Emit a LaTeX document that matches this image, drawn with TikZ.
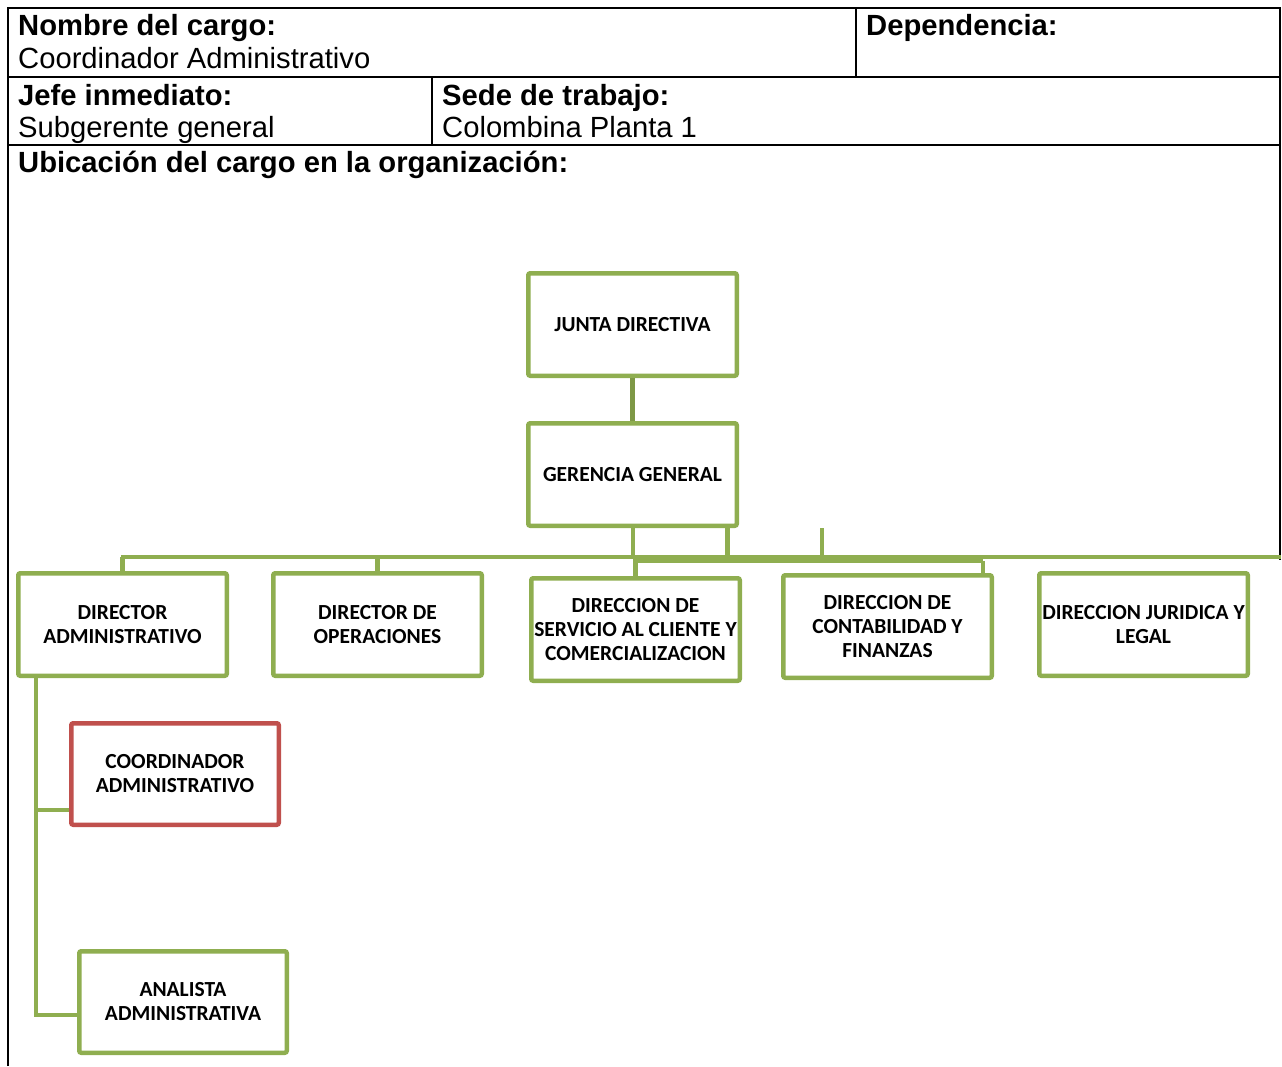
\documentclass[tikz,border=0pt]{standalone}
\usepackage{fontspec}
\setmainfont{Liberation Sans}
\newfontfamily\boxfont{Carlito}
\definecolor{ogreen}{RGB}{143,174,80}
\definecolor{dgreen}{RGB}{126,152,70}
\definecolor{ored}{RGB}{192,80,77}
\begin{document}
\begin{tikzpicture}[x=1pt,y=-1pt,
  orgbox/.style={draw=ogreen,line width=4.5pt,rounded corners=2pt,fill=white,
    minimum width=208.5pt,minimum height=102.5pt,inner sep=0pt,align=center,
    font=\boxfont\bfseries\fontsize{21.5}{24}\selectfont},
  redbox/.style={orgbox,draw=ored},
  conn/.style={draw=ogreen,line width=4.5pt},
  hdr/.style={anchor=base west,inner sep=0pt,font=\bfseries\fontsize{29.2}{31}\selectfont},
  val/.style={anchor=base west,inner sep=0pt,font=\fontsize{29.2}{31}\selectfont},
  rule/.style={line width=2.2pt,black}]
\useasboundingbox (0,0) rectangle (1282,1066);
% table frame
\draw[rule] (8,1066) -- (8,8) -- (1280,8) -- (1280,560);
\draw[rule] (8,77) -- (1280,77);
\draw[rule] (8,145) -- (1280,145);
\draw[rule] (856,8) -- (856,77);
\draw[rule] (432,77) -- (432,145);
% table texts
\node[hdr] (t1) at (18,35) {Nombre del cargo:};
\node[val] (v1) at (18,68) {Coordinador Administrativo};
\node[hdr] (t2) at (866,35) {Dependencia:};
\node[hdr] (t3) at (18,105) {Jefe inmediato:};
\node[val] (v3) at (18,137) {Subgerente general};
\node[hdr] (t4) at (442,105) {Sede de trabajo:};
\node[val] (v4) at (442,137) {Colombina Planta 1};
\node[hdr] (t5) at (18,172) {Ubicación del cargo en la organización:};
% connectors (behind boxes)
\coordinate (barL) at (121,557);
\coordinate (barR) at (1281,557);
\coordinate (stubTop) at (822,528);
\coordinate (stubBot) at (822,558);
\draw[conn] (barL) -- (barR);
\draw[conn] (633,561) -- (983,561);
\draw[conn] (stubTop) -- (stubBot);
% boxes
\node[orgbox] (junta) at (632.5,324.5) {JUNTA DIRECTIVA};
\node[orgbox] (ger) at (632.5,474.5) {GERENCIA GENERAL};
\node[orgbox] (dadm) at (122.5,624.5) {DIRECTOR\\ADMINISTRATIVO};
\node[orgbox] (dop) at (377.5,624.5) {DIRECTOR DE\\OPERACIONES};
\node[orgbox] (dserv) at (635.5,629.5) {DIRECCION DE\\SERVICIO AL CLIENTE Y\\COMERCIALIZACION};
\node[orgbox] (dcont) at (887.5,626.5) {DIRECCION DE\\CONTABILIDAD Y\\FINANZAS};
\node[orgbox] (djur) at (1143.5,624.5) {DIRECCION JURIDICA Y\\LEGAL};
\node[redbox,minimum width=207.5pt,minimum height=101.5pt] (coord) at (175,774) {COORDINADOR\\ADMINISTRATIVO};
\node[orgbox,minimum width=207.5pt,minimum height=101.5pt] (anal) at (183,1002) {ANALISTA\\ADMINISTRATIVA};
% box connectors
\draw[draw=dgreen,line width=4.5pt] (junta.south) -- (ger.north);
\draw[conn] ([xshift=0.5pt]ger.south) -- ++(0,30);
\draw[conn] ([xshift=95pt]ger.south) -- ++(0,30);
\draw[conn] (dadm.north) -- ++(0,-14);
\draw[conn] (dop.north) -- ++(0,-14);
\draw[conn] (dserv.north) -- ++(0,-18);
\draw[conn] ([xshift=95.5pt]dcont.north) -- ++(0,-12);
\draw[conn] ([xshift=20pt]dadm.south west) |- ([yshift=-36pt]coord.west);
\draw[conn] ([xshift=20pt]dadm.south west) |- ([yshift=-13pt]anal.west);
\end{tikzpicture}
\end{document}
